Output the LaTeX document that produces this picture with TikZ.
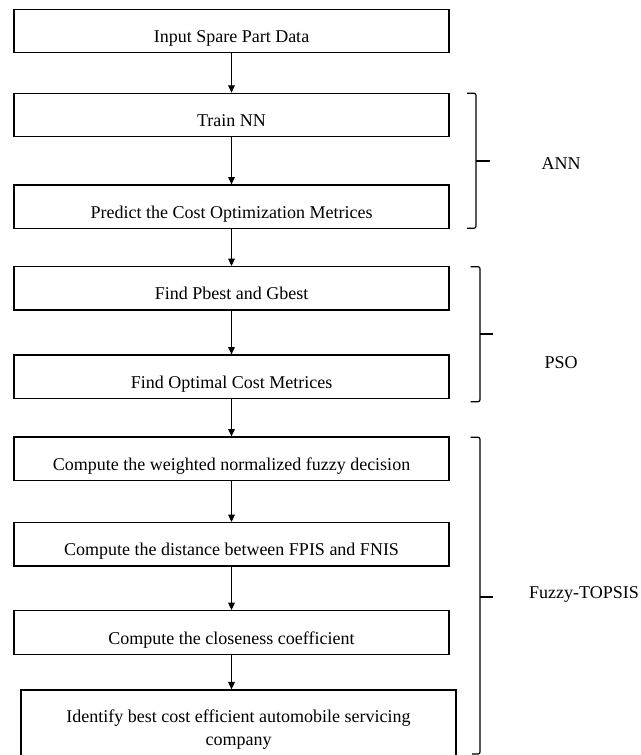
\documentclass[tikz,border=0pt]{standalone}
\usepackage{fontspec}
\setmainfont{Liberation Serif}
\usetikzlibrary{arrows.meta}

\tikzset{
  stepbox/.style={draw, line width=0.9pt, minimum width=326.25pt, minimum height=32.6pt,
    inner sep=0pt, text height=18.5pt, text depth=1pt, font=\fontsize{13.5}{17.25}\selectfont},
  flow/.style={-{Triangle[length=5.5pt,width=5pt]}, line width=0.7pt},
  bracket/.style={line width=0.9pt, rounded corners=1.5pt},
  tick/.style={line width=1.4pt},
  grouplabel/.style={anchor=base, font=\fontsize{13.5}{16}\selectfont}
}

\begin{document}
\begin{tikzpicture}[x=0.75pt, y=-0.75pt]
\useasboundingbox (0,0) rectangle (641,755);

% steps
\node[stepbox] (input) at (231.5,31) {Input Spare Part Data};
\node[stepbox] (train) at (231.5,115) {Train NN};
\node[stepbox] (predict) at (231.5,206.7) {Predict the Cost Optimization Metrices};
\node[stepbox] (pbest) at (231.5,288.3) {Find Pbest and Gbest};
\node[stepbox] (optimal) at (231.5,376.7) {Find Optimal Cost Metrices};
\node[stepbox] (weighted) at (231.5,458.7) {Compute the weighted normalized fuzzy decision};
\node[stepbox] (distance) at (231.5,544.3) {Compute the distance between FPIS and FNIS};
\node[stepbox] (closeness) at (231.5,632.4) {Compute the closeness coefficient};
\node[stepbox, anchor=north, minimum height=52.5pt, align=center, text height=32pt, text depth=1pt]
  (identify) at (238.5,689.3) {Identify best cost efficient automobile servicing\\company};

\draw[flow] (input) -- (train);
\draw[flow] (train) -- (predict);
\draw[flow] (predict) -- (pbest);
\draw[flow] (pbest) -- (optimal);
\draw[flow] (optimal) -- (weighted);
\draw[flow] (weighted) -- (distance);
\draw[flow] (distance) -- (closeness);
\draw[flow] (closeness.south) -- (closeness.south |- identify.north);

% groups
\draw[bracket] (467,93.3) -- (476,93.3) -- (476,228.3) -- (467,228.3);
\draw[tick] (476,160.7) -- (490,160.7);
\node[grouplabel] (ann) at (561,169.3) {ANN};

\draw[bracket] (470.7,266.7) -- (480,266.7) -- (480,401.7) -- (470.7,401.7);
\draw[tick] (480,334) -- (493,334);
\node[grouplabel] (pso) at (561,368.7) {PSO};

\draw[bracket] (470.7,437.3) -- (480,437.3) -- (480,754) -- (472,754);
\draw[tick] (480,596.7) -- (493,596.7);
\node[grouplabel] (topsis) at (584,598.5) {Fuzzy-TOPSIS};
\end{tikzpicture}
\end{document}
